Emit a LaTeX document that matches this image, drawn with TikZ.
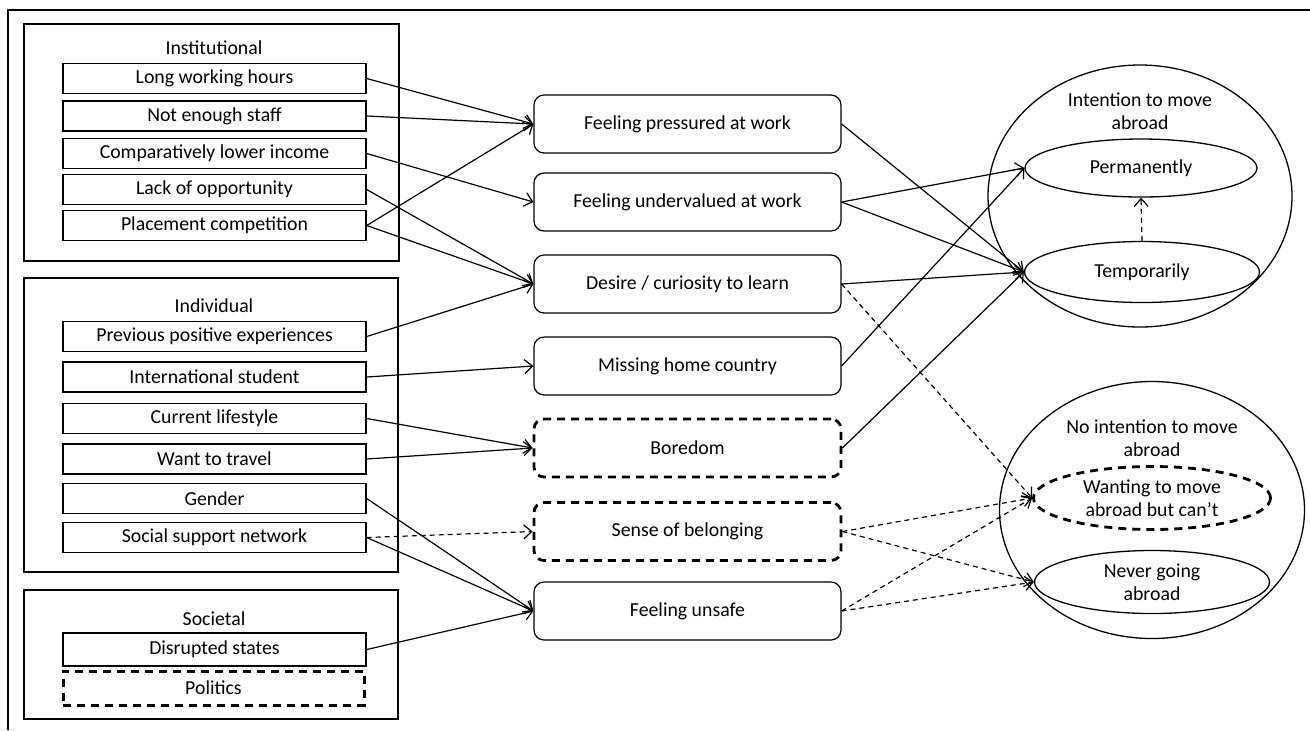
\documentclass[tikz,border=0pt]{standalone}
\usepackage{fontspec}
\setmainfont{Carlito}
\usetikzlibrary{arrows.meta,shapes.geometric}

\begin{document}
\begin{tikzpicture}[x=0.5pt, y=-0.5pt,
    every node/.style={font=\fontsize{9.9}{11.5}\selectfont, align=center},
    factor/.style={draw, line width=0.7pt, minimum width=151.5pt, minimum height=15pt, inner sep=0pt},
    effect/.style={draw, line width=0.6pt, rounded corners=5pt, minimum width=153.5pt, minimum height=29pt, inner sep=0pt},
    outcome/.style={draw, ellipse, line width=0.65pt, inner sep=0pt},
    unsure/.style={line width=1.4pt, dash pattern=on 4pt off 3pt},
    link/.style={-{Straight Barb[length=4pt,width=7pt]}, line width=0.6pt},
    maybe/.style={link, dash pattern=on 2.5pt off 2pt}]
        \useasboundingbox (0,0) rectangle (1310,730);

        % Frame
        \draw[line width=0.7pt] (8,730) -- (8,10) -- (1310,10);

        % Groups of factors
        \draw[line width=0.7pt] (24,24) rectangle (399,261);
        \draw[line width=0.7pt] (24,278) rectangle (398,572);
        \draw[line width=0.7pt] (24,590) rectangle (398,719);
        \node (inst) at (214,48) {Institutional};
        \node (indi) at (214,306) {Individual};
        \node (soci) at (214,619) {Societal};

        % Factors
        \node[factor] (lwh) at (214.5,78.5) {Long working hours};
        \node[factor] (nes) at (214.5,116) {Not enough staff};
        \node[factor] (cli) at (214.5,153.5) {Comparatively lower income};
        \node[factor] (lop) at (214.5,189.5) {Lack of opportunity};
        \node[factor] (plc) at (214.5,225.5) {Placement competition};
        \node[factor] (ppe) at (214.5,336.5) {Previous positive experiences};
        \node[factor] (ist) at (214.5,377) {International student};
        \node[factor] (cls) at (214.5,418.5) {Current lifestyle};
        \node[factor] (wtt) at (214.5,459) {Want to travel};
        \node[factor] (gen) at (214.5,498.5) {Gender};
        \node[factor] (ssn) at (214.5,537.5) {Social support network};
        \node[factor, minimum height=16.5pt] (dst) at (214.5,649.5) {Disrupted states};
        \node[draw, unsure, line width=1.5pt, inner sep=0pt, minimum width=150.5pt, minimum height=17pt] (pol) at (213.5,688) {Politics};

        % Effects
        \node[effect] (fpw) at (687.5,124) {Feeling pressured at work};
        \node[effect] (fuw) at (687.5,202) {Feeling undervalued at work};
        \node[effect] (dcl) at (687.5,284) {Desire / curiosity to learn};
        \node[effect] (mhc) at (687.5,366) {Missing home country};
        \node[effect, unsure] (bor) at (687.5,448) {Boredom};
        \node[effect, unsure] (sob) at (687.5,531.5) {Sense of belonging};
        \node[effect] (fun) at (687.5,611) {Feeling unsafe};

        % Outcomes
        \node[outcome, minimum width=152pt, minimum height=131pt] (move) at (1140,196) {};
        \node (movel) at (1140,111.5) {Intention to move\\abroad};
        \node[outcome, minimum width=116pt, minimum height=29pt] (perm) at (1141,168) {Permanently};
        \node[outcome, minimum width=117.5pt, minimum height=30.5pt] (temp) at (1142,272) {Temporarily};
        \node[outcome, minimum width=152.5pt, minimum height=128.5pt] (stay) at (1152,510) {};
        \node (stayl) at (1152,438) {No intention to move\\abroad};
        \node[outcome, unsure, minimum width=118.5pt, minimum height=31.5pt] (want) at (1152,498) {Wanting to move\\abroad but can’t};
        \node[outcome, minimum width=117.5pt, minimum height=31.5pt] (never) at (1152,582) {Never going\\abroad};

        % Factors to effects
        \draw[link] (lwh.east) -- (fpw.west);
        \draw[link] (nes.east) -- (fpw.west);
        \draw[link] (plc.east) -- (fpw.west);
        \draw[link] (cli.east) -- (fuw.west);
        \draw[link] (lop.east) -- (dcl.west);
        \draw[link] (plc.east) -- (dcl.west);
        \draw[link] (ppe.east) -- (dcl.west);
        \draw[link] (ist.east) -- (mhc.west);
        \draw[link] (cls.east) -- (bor.west);
        \draw[link] (wtt.east) -- (bor.west);
        \draw[maybe] (ssn.east) -- (sob.west);
        \draw[link] (gen.east) -- (fun.west);
        \draw[link] (ssn.east) -- (fun.west);
        \draw[link] (dst.east) -- (fun.west);

        % Effects to outcomes
        \draw[link] (fpw.east) -- (temp.west);
        \draw[link] (fuw.east) -- (perm.west);
        \draw[link] (fuw.east) -- (temp.west);
        \draw[link] (dcl.east) -- (temp.west);
        \draw[link] (mhc.east) -- (perm.west);
        \draw[link] (bor.east) -- (temp.west);
        \draw[maybe] (dcl.east) -- (want.west);
        \draw[maybe] (sob.east) -- (want.west);
        \draw[maybe] (sob.east) -- (never.west);
        \draw[maybe] (fun.east) -- (want.west);
        \draw[maybe] (fun.east) -- (never.west);
        \draw[maybe] (temp.north) -- (perm.south);
\end{tikzpicture}
\end{document}
